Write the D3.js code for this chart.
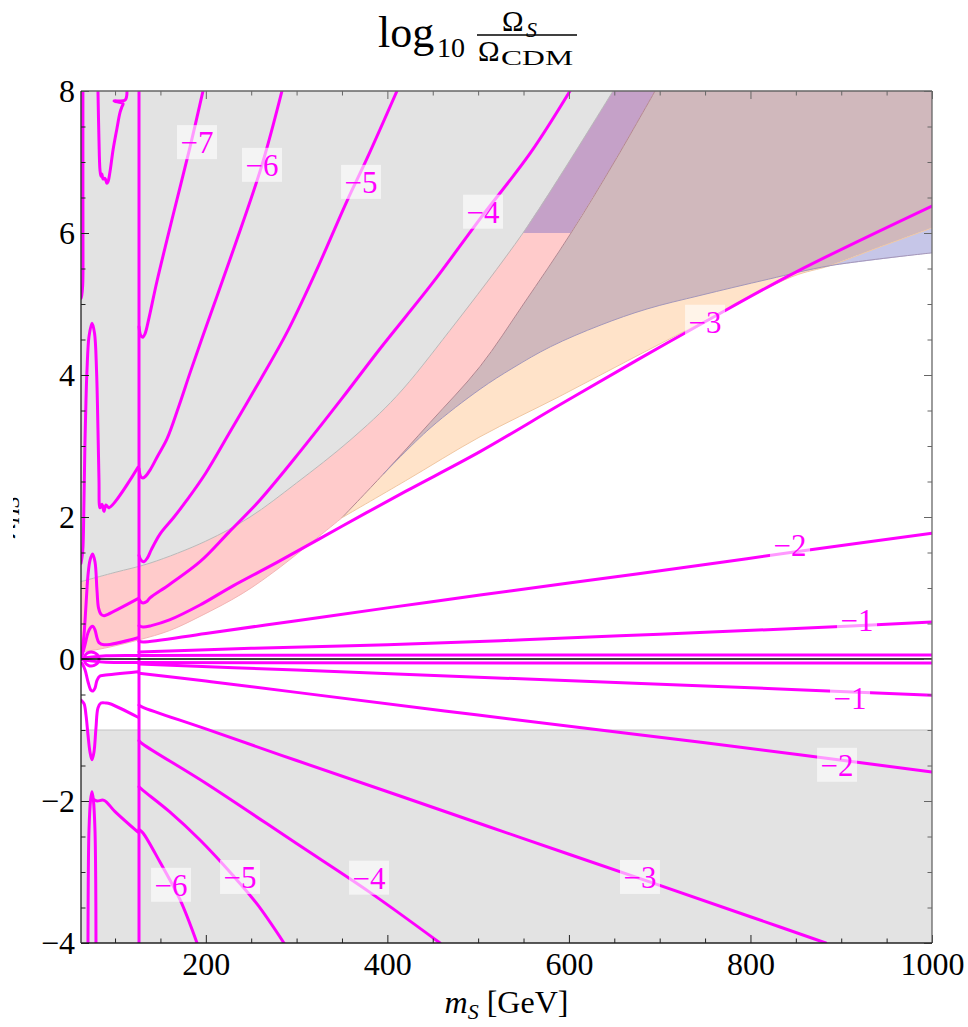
<!DOCTYPE html>
<html>
<head>
<meta charset="utf-8">
<script src="https://cdn.jsdelivr.net/npm/d3@7"></script>
<style>
  body { margin: 0; background: #fff; }
  svg { display: block; }
  text { font-family: "Liberation Serif", "Times New Roman", serif; }
</style>
</head>
<body>
<svg id="chart" width="968" height="1027"></svg>
<script>
// ---------- axis ticks ----------
const xMajor = [200, 400, 600, 800, 1000];
const xMinor = [100, 150, 250, 300, 350, 450, 500, 550, 650, 700, 750, 850, 900, 950];
const yMajor = [-4, -2, 0, 2, 4, 6, 8];
const yMinor = [-3.5, -3, -2.5, -1.5, -1, -0.5, 0.5, 1, 1.5, 2.5, 3, 3.5, 4.5, 5, 5.5, 6.5, 7, 7.5];

// ---------- shaded region boundaries [m_S, lambda] ----------
const gBound  = [[62.5,1.09],[100,1.22],[138.5,1.35],[200,1.66],[248.7,2.0],[300,2.48],[358.8,3.08],[410,3.7],[469,4.63],[549.4,6.0],[600,7.0],[648.6,8]];
const pBound  = [[62.5,0.10],[83.4,0.14],[126.4,0.27],[160,0.40],[193.6,0.6],[240,0.92],[278.4,1.26],[350,1.99]];
const b1Bound = [[350,1.99],[395.2,2.6],[447,3.33],[502.1,4.12],[550,5.0],[602.3,6.0],[650,7.0],[694.9,8]];
const qBound  = [[350,1.99],[420,2.51],[502.1,3.13],[590,3.7],[675,4.27],[760,4.83],[846.9,5.39],[887.7,5.54],[940,5.79],[1000,6.07]];
const bbBound = [[395.2,2.6],[447,3.25],[502.1,3.8],[538.4,4.1],[580,4.4],[634.3,4.7],[686,4.93],[744.4,5.12],[820,5.35],[887.7,5.54],[1000,5.72]];
const lowerGrayTop = -1;
const bandCap = 6;
const crossM = 887.7;

// ---------- contour pieces of log10(Omega_S / Omega_CDM) ----------
const up7 = [[126.4,4.68],[128.2,4.56],[130.5,4.53],[133,4.58],[137,4.78],[146.2,5.32],[163.9,6.25],[182.6,7.21],[196.9,8]];
const up6 = [[126.4,2.68],[128.3,2.57],[130.8,2.55],[134,2.58],[138.5,2.66],[147,2.86],[157.2,3.1],[170,3.55],[182.6,4.03],[197,4.56],[212.3,5.11],[232.2,5.83],[261.9,6.96],[283.9,8]];
const up5 = [[126.4,1.46],[128.8,1.39],[131.8,1.37],[135.5,1.42],[140,1.54],[149.5,1.76],[165,2.0],[179.3,2.24],[200,2.62],[226.7,3.2],[260,3.93],[289.4,4.6],[320,5.42],[355.5,6.45],[377.6,7.05],[410.6,8]];
const up4 = [[126.4,0.84],[128.8,0.8],[131,0.79],[135,0.81],[138.5,0.86],[160,1.05],[193.6,1.37],[225,1.78],[259.7,2.24],[303.8,2.92],[350,3.67],[391.9,4.37],[450,5.3],[502.1,6.2],[557.2,7.12],[601.2,8]];
const up3 = [[126.4,0.47],[130.8,0.45],[140,0.47],[160,0.55],[193.6,0.76],[230,1.03],[278.4,1.36],[350,1.87],[420,2.36],[502.1,2.92],[590,3.58],[675,4.21],[750,4.75],[850,5.45],[1000,6.38]];
const up2 = [[126.4,0.25],[130.8,0.24],[200,0.36],[300,0.54],[400,0.72],[502.1,0.9],[600,1.07],[744.4,1.32],[850,1.51],[1000,1.77]];
const up1 = [[126.4,0.1],[250,0.15],[400,0.2],[550,0.27],[700,0.35],[850,0.43],[1000,0.52]];
const zeroUp = [[62.5,0.01],[75,0.03],[90,0.045],[126.4,0.05],[1000,0.055]];
const zeroDn = [[62.5,-0.01],[75,-0.03],[90,-0.045],[126.4,-0.05],[1000,-0.055]];
const lo1 = [[126.4,-0.07],[300,-0.156],[500,-0.256],[750,-0.38],[1000,-0.51]];
const lo2 = [[126.4,-0.2],[200,-0.31],[300,-0.47],[500,-0.79],[750,-1.18],[1000,-1.59]];
const lo3 = [[126.4,-0.65],[130.8,-0.68],[200,-0.985],[300,-1.43],[414,-1.93],[550,-2.53],[689,-3.14],[800,-3.63],[883,-4]];
const lo4 = [[126.4,-1.15],[130.8,-1.2],[200,-1.75],[300,-2.6],[380,-3.28],[458,-4]];
const lo5 = [[126.4,-1.8],[130.8,-1.85],[160,-2.15],[193.6,-2.55],[230,-3.05],[256.4,-3.45],[286.1,-4]];
const lo6 = [[126.4,-2.4],[130.8,-2.45],[149.5,-2.86],[171.6,-3.39],[190.3,-4]];
const seam = [[126.4,8],[126.4,-4]];
const l7a = [[64.6,8],[64.6,6.5],[64.7,5.5],[64.3,5.25],[63.3,5.12],[62.5,5.08]];
const l7b = [[81.2,8],[82.3,7.31],[83.4,6.89],[84.5,6.8],[85.6,6.83],[86.7,6.76],[88.9,6.77],[91,6.7],[92.2,6.72],[94.4,6.86],[97.8,7.17],[102.2,7.48],[105.5,7.7],[107.7,7.78],[108.8,7.82],[98.9,7.86],[111,7.87],[113.2,8]];
const l6 = [[62.5,1.35],[63.8,1.45],[64.7,1.58],[65.8,2.24],[66.9,3.08],[68,3.65],[69.1,4.07],[71.3,4.54],[74.6,4.73],[77.4,4.59],[79.6,4.07],[81.2,3.23],[82.3,2.52],[83.4,2.13],[85.6,2.18],[87.8,2.08],[90,2.17],[93.3,2.13],[125.3,2.7]];
const l5 = [[63.6,0.1],[65.8,0.34],[68,0.76],[70.2,1.18],[72.4,1.39],[75.2,1.48],[77.9,1.37],[80.1,0.97],[81.8,0.72],[84.5,0.63],[87.8,0.61],[92.2,0.63],[125.3,0.85]];
const l4 = [[63.6,0.04],[66.9,0.2],[70.2,0.37],[73.5,0.45],[75.7,0.46],[77.9,0.41],[80.1,0.3],[82.3,0.23],[87.8,0.2],[125.3,0.3]];
const eye = [[66,0],[67.5,0.06],[70.5,0.09],[73.5,0.1],[77,0.09],[80.5,0.06],[82.5,0],[80.5,-0.06],[77,-0.09],[73.5,-0.1],[70.5,-0.09],[67.5,-0.06],[66,0]];
const ld1 = [[63.6,-0.06],[66.9,-0.15],[70.2,-0.32],[73.5,-0.44],[75.7,-0.45],[77.9,-0.41],[80.1,-0.3],[83.4,-0.24],[87.8,-0.23],[125.3,-0.18]];
const ld2 = [[62.5,-0.58],[65.8,-0.63],[68,-0.79],[70.2,-1.07],[72.4,-1.31],[74.6,-1.42],[76.8,-1.31],[79,-0.97],[81.2,-0.69],[84.5,-0.62],[90,-0.62],[94.4,-0.63],[125.3,-0.82]];
const ld3 = [[70.2,-4],[70.5,-3.11],[71.3,-2.41],[73,-1.99],[74.6,-1.87],[76.2,-1.99],[77.9,-2.41],[78.7,-3.11],[79,-4]];
const ld4 = [[76.5,-1.98],[80.1,-2.0],[87.8,-1.99],[100,-2.15],[125.3,-2.44]];

const contourPieces = [up7, up6, up5, up4, up3, up2, up1, zeroUp, zeroDn,
  lo1, lo2, lo3, lo4, lo5, lo6, seam, l7a, l7b, l6, l5, l4, eye, ld1, ld2, ld3, ld4];

// contour labels: [level, m_S, lambda]
const contourLabels = [
  [-7,190.3,7.28],[-6,261.9,6.96],[-5,371,6.72],[-4,505.4,6.30],[-3,750,4.75],[-2,843.6,1.61],[-1,917.4,0.55],
  [-1,909.7,-0.55],[-2,895.4,-1.49],[-3,678.3,-3.07],[-4,379.8,-3.08],[-5,237.7,-3.07],[-6,161.7,-3.18]
];

// ---------- layout ----------
const svg = d3.select("#chart");
const x = d3.scaleLinear().domain([62.5, 1000]).range([81, 932]);
const y = d3.scaleLinear().domain([-4, 8]).range([943, 91]);
const [x0, x1] = x.range(), [y0, y1] = y.range();

const defs = svg.append("defs");
defs.append("clipPath").attr("id", "plotClip").append("rect")
  .attr("x", x0).attr("y", y1).attr("width", x1 - x0).attr("height", y0 - y1);
defs.append("clipPath").attr("id", "ylabClip").append("rect")
  .attr("x", 13).attr("y", 0).attr("width", 60).attr("height", 1027);

const smooth = d3.line().x(d => x(d[0])).y(d => y(d[1])).curve(d3.curveCatmullRom.alpha(0.5));
// join several boundary pieces into one closed outline
function outline(...pieces) {
  let d = "";
  pieces.forEach((p, i) => {
    let s = p.length === 1 ? `M${x(p[0][0])},${y(p[0][1])}` : smooth(p);
    s = s.replace(/Z$/, "");
    d += i === 0 ? s : s.replace(/^M/, "L");
  });
  return d + "Z";
}

const plot = svg.append("g").attr("clip-path", "url(#plotClip)");

// ---------- filled regions ----------
const gLow = gBound.filter(d => d[1] <= bandCap);
const gHigh = gBound.filter(d => d[1] >= bandCap);
const b1Low = b1Bound.filter(d => d[1] <= bandCap);
const b1High = b1Bound.filter(d => d[1] >= bandCap);
const qA = qBound.filter(d => d[0] <= crossM);
const qB = qBound.filter(d => d[0] >= crossM);
const bbA = bbBound.filter(d => d[0] <= crossM);
const bbB = bbBound.filter(d => d[0] >= crossM);
const rev = a => a.slice().reverse();
const [mLo, mHi] = x.domain(), [lLo, lHi] = y.domain();

const regions = [
  { fill: "#E3E3E3", d: outline([[mLo, lHi]], gBound) },
  { fill: "#E3E3E3", d: outline([[mLo, lowerGrayTop], [mHi, lowerGrayTop]], [[mHi, lLo], [mLo, lLo]]) },
  { fill: "#FFCBCB", d: outline(gLow, rev(b1Low), rev(pBound)) },
  { fill: "#C5A1C8", d: outline(gHigh, rev(b1High)) },
  { fill: "#FFE3C9", d: outline(b1Bound.slice(0, 2), bbA, rev(qA)) },
  { fill: "#D0B8BC", d: outline(b1Bound.slice(1), [[mHi, lHi]], rev(qB), rev(bbA)) },
  { fill: "#C6C6E8", d: outline(qB, rev(bbB)) }
];
plot.selectAll("path.region").data(regions).join("path")
  .attr("class", "region").attr("d", r => r.d).attr("fill", r => r.fill).attr("stroke", "none");

const edges = [
  { pts: gBound, c: "#B9B9B9" },
  { pts: pBound, c: "#F3B5B5" },
  { pts: b1Bound, c: "#B48690" },
  { pts: qBound, c: "#F0C7A2" },
  { pts: bbBound, c: "#A496B8" },
  { pts: [[mLo, lowerGrayTop], [mHi, lowerGrayTop]], c: "#C4C4C4" }
];
plot.selectAll("path.edge").data(edges).join("path")
  .attr("class", "edge").attr("d", e => smooth(e.pts)).attr("fill", "none")
  .attr("stroke", e => e.c).attr("stroke-width", 1);

// ---------- contour lines ----------
plot.selectAll("path.contour").data(contourPieces).join("path")
  .attr("class", "contour").attr("d", smooth).attr("fill", "none")
  .attr("stroke", "#FF00FF").attr("stroke-width", 3)
  .attr("stroke-linejoin", "round").attr("stroke-linecap", "round");

// lambda = 0 axis
plot.append("line").attr("x1", x0).attr("x2", x1).attr("y1", y(0)).attr("y2", y(0))
  .attr("stroke", "#000").attr("stroke-width", 1.5);

// ---------- contour labels ----------
const lab = plot.selectAll("g.clabel").data(contourLabels).join("g")
  .attr("class", "clabel").attr("transform", d => `translate(${x(d[1])},${y(d[2])})`);
lab.append("rect").attr("x", -20).attr("y", -17).attr("width", 40).attr("height", 34)
  .attr("fill", "#fff").attr("fill-opacity", 0.6);
lab.append("text").attr("text-anchor", "middle").attr("dy", "0.35em")
  .attr("font-size", 31).attr("fill", "#FF00FF").text(d => "\u2212" + Math.abs(d[0]));

// ---------- axes (ticks inside the frame on all four sides) ----------
function styleAxis(color) {
  return g => {
    g.select(".domain").remove();
    g.selectAll(".tick line").attr("stroke", color);
    g.selectAll(".tick text").attr("font-size", 32).attr("fill", "#000")
      .style("font-family", '"Liberation Serif", "Times New Roman", serif');
  };
}
const dark = "#222", soft = "#666";
svg.append("g").attr("transform", `translate(0,${y0})`)
  .call(d3.axisBottom(x).tickValues(xMajor).tickSize(-8).tickPadding(9).tickFormat(d3.format("d"))).call(styleAxis(dark));
svg.append("g").attr("transform", `translate(0,${y0})`)
  .call(d3.axisBottom(x).tickValues(xMinor).tickSize(-4.5).tickFormat("")).call(styleAxis(dark));
svg.append("g").attr("transform", `translate(0,${y1})`)
  .call(d3.axisTop(x).tickValues(xMajor).tickSize(-8).tickFormat("")).call(styleAxis(soft));
svg.append("g").attr("transform", `translate(0,${y1})`)
  .call(d3.axisTop(x).tickValues(xMinor).tickSize(-4.5).tickFormat("")).call(styleAxis(soft));
svg.append("g").attr("transform", `translate(${x0},0)`)
  .call(d3.axisLeft(y).tickValues(yMajor).tickSize(-8).tickPadding(6).tickFormat(d3.format("d"))).call(styleAxis(dark));
svg.append("g").attr("transform", `translate(${x0},0)`)
  .call(d3.axisLeft(y).tickValues(yMinor).tickSize(-4.5).tickFormat("")).call(styleAxis(dark));
svg.append("g").attr("transform", `translate(${x1},0)`)
  .call(d3.axisRight(y).tickValues(yMajor).tickSize(-8).tickFormat("")).call(styleAxis(soft));
svg.append("g").attr("transform", `translate(${x1},0)`)
  .call(d3.axisRight(y).tickValues(yMinor).tickSize(-4.5).tickFormat("")).call(styleAxis(soft));

// frame
const frame = svg.append("g").attr("fill", "none").attr("stroke-width", 1.3);
frame.append("line").attr("x1", x0).attr("x2", x1).attr("y1", y1).attr("y2", y1).attr("stroke", soft);
frame.append("line").attr("x1", x1).attr("x2", x1).attr("y1", y1).attr("y2", y0).attr("stroke", soft);
frame.append("line").attr("x1", x0).attr("x2", x1).attr("y1", y0).attr("y2", y0).attr("stroke", dark);
frame.append("line").attr("x1", x0).attr("x2", x0).attr("y1", y1).attr("y2", y0).attr("stroke", dark);

// ---------- titles ----------
const xl = svg.append("text").attr("x", (x0 + x1) / 2).attr("y", 1013)
  .attr("text-anchor", "middle").attr("font-size", 32);
xl.append("tspan").attr("font-style", "italic").text("m");
xl.append("tspan").attr("font-style", "italic").attr("font-size", 22).attr("dy", 6).text("S");
xl.append("tspan").attr("dy", -6).text(" [GeV]");

const yl = svg.append("g").attr("clip-path", "url(#ylabClip)")
  .append("text").attr("transform", `translate(15,${(y0 + y1) / 2}) rotate(-90)`)
  .attr("text-anchor", "middle").attr("font-size", 32);
yl.append("tspan").attr("font-style", "italic").text("\u03BB");
yl.append("tspan").attr("font-style", "italic").attr("font-size", 22).attr("dy", 4).text("HS");

const t = svg.append("g");
t.append("text").attr("x", 378).attr("y", 47).attr("font-size", 44).text("log");
t.append("text").attr("x", 437).attr("y", 57).attr("font-size", 28).text("10");
t.append("line").attr("x1", 477).attr("x2", 577).attr("y1", 35).attr("y2", 35)
  .attr("stroke", "#000").attr("stroke-width", 1.4);
t.append("text").attr("x", 502).attr("y", 31).attr("font-size", 29).text("\u03A9");
t.append("text").attr("x", 526).attr("y", 37).attr("font-size", 22).attr("font-style", "italic").text("S");
t.append("text").attr("x", 478).attr("y", 61).attr("font-size", 29).text("\u03A9");
t.append("text").attr("x", 501).attr("y", 65).attr("font-size", 22)
  .attr("textLength", 72).attr("lengthAdjust", "spacingAndGlyphs").text("CDM");
</script>
</body>
</html>
